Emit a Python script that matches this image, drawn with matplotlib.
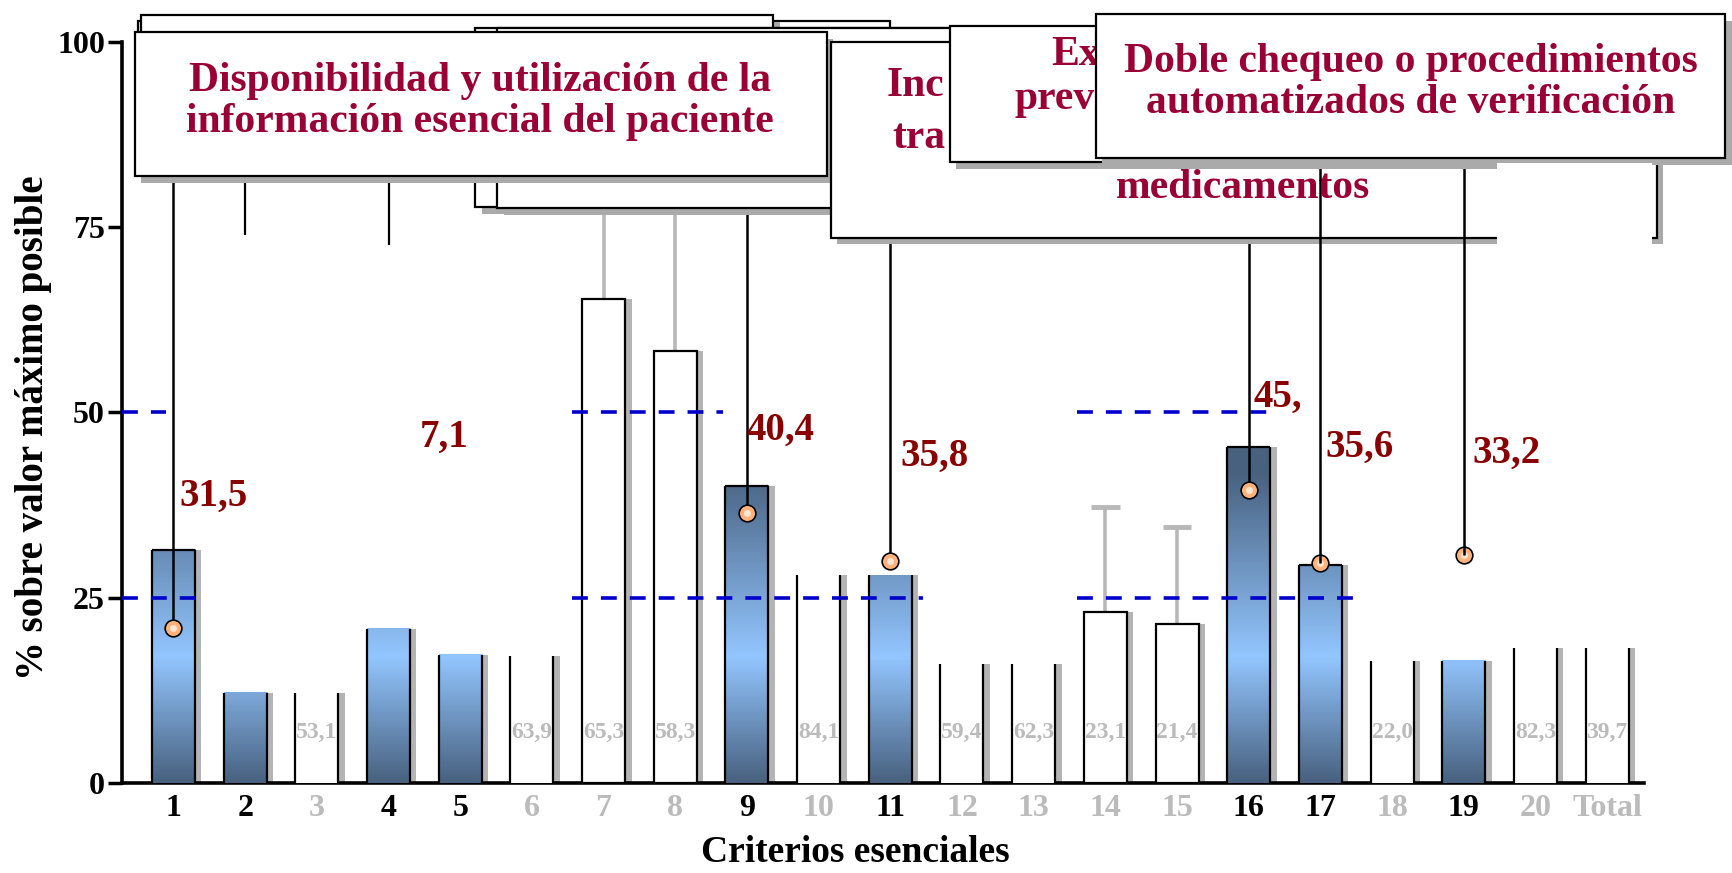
import numpy as np
import matplotlib
matplotlib.use("Agg")
import matplotlib.pyplot as plt
from matplotlib.patches import Rectangle
from matplotlib.colors import LinearSegmentedColormap

plt.rcParams["font.family"] = ["Liberation Serif", "DejaVu Serif"]
plt.rcParams["font.weight"] = "bold"

# ---- data ----
categories = [str(i) for i in range(1, 21)] + ["Total"]

blue_cats = ["1", "2", "4", "5", "9", "11", "16", "17", "19"]
blue_vals = [31.5, 12.2, 20.8, 17.3, 40.1, 28.0, 45.3, 29.4, 16.5]
blue_top_edge = ["1", "9", "16", "17"]

open_cats = ["7", "8", "14", "15"]
open_vals = [65.3, 58.3, 23.1, 21.4]
open_whisker = [90.0, 90.0, 37.3, 34.6]
open_capped = ["14", "15"]

ghost_cats = ["3", "6", "10", "12", "13", "18", "20", "Total"]
ghost_vals = [12.2, 17.2, 28.0, 16.0, 16.0, 16.5, 18.2, 18.2]

value_cats = ["3", "6", "7", "8", "10", "12", "13", "14", "15", "18", "20", "Total"]
value_text = ["53,1", "63,9", "65,3", "58,3", "84,1", "59,4", "62,3",
              "23,1", "21,4", "22,0", "82,3", "39,7"]

dot_cats = ["1", "9", "11", "16", "17", "19"]
dot_vals = [20.9, 36.4, 30.0, 39.5, 29.7, 30.7]
dot_line_top = [90, 90, 80, 80, 90, 90]
dot_line_front = [False, False, False, False, True, True]

# connectors of the hidden callouts
stub_cats = ["2", "4"]
stub_vals = [74.0, 72.6]

red_labels = ["31,5", "7,1", "40,4", "35,8", "45,", "35,6", "33,2"]
red_pos = [(0.08, 38.7), (3.44, 46.6), (8.0, 47.6), (10.14, 44.1),
           (15.07, 52.1), (16.07, 45.25), (18.12, 44.5)]

ref_lines_25 = [(-0.72, 0.33), (5.56, 10.45), (12.6, 16.53)]
ref_lines_50 = [(-0.72, -0.1), (5.56, 7.67), (12.6, 15.42)]

# ---- style ----
BAR_W = 0.6
SH_X, SH_Y = 0.09, 0.9
SHADOW = "#b4b4b4"
GREY_TXT = "#bbbbbb"
BOX_TXT = "#990033"
RED = "#880000"
BOX_FS = 30

xpos = {c: i for i, c in enumerate(categories)}
cmap = LinearSegmentedColormap.from_list(
    "bar", [(0, "#48617f"), (17 / 46, "#93c6ff"), (42 / 46, "#48617f"), (1, "#48617f")])

fig = plt.figure(figsize=(17.32, 8.73), dpi=100)
ax = fig.add_axes([0.0702, 0.1031, 0.8788, 0.8489])

# gradient bars
for c, v in zip(blue_cats, blue_vals):
    x = xpos[c]
    x0, x1 = x - BAR_W / 2, x + BAR_W / 2
    ax.add_patch(Rectangle((x0 + SH_X, 0), BAR_W, v, fc=SHADOW, ec="none", zorder=2))
    grad = np.linspace(0, v, 200).reshape(-1, 1)
    ax.imshow(grad, cmap=cmap, vmin=0, vmax=46, extent=[x0, x1, 0, v],
              origin="lower", aspect="auto", zorder=3)
    ax.vlines([x0, x1], 0, v, colors="black", lw=1.6, zorder=4)
    if c in blue_top_edge:
        ax.hlines(v, x0, x1, colors="black", lw=1.6, zorder=4)

# open bars with grey whiskers
for c, v, w in zip(open_cats, open_vals, open_whisker):
    x = xpos[c]
    ax.vlines(x, v, w, colors="#b8b8b8", lw=2.6, zorder=2.5)
    if c in open_capped:
        ax.hlines(w, x - 0.2, x + 0.2, colors="#b8b8b8", lw=3.5, zorder=2.5)
    ax.add_patch(Rectangle((x - BAR_W / 2 + SH_X, 0), BAR_W, v, fc=SHADOW, ec="none", zorder=2))
    ax.add_patch(Rectangle((x - BAR_W / 2, 0), BAR_W, v, fc="white", ec="black", lw=1.6, zorder=3))

# bars of which only the side edges show
for c, v in zip(ghost_cats, ghost_vals):
    x = xpos[c]
    ax.add_patch(Rectangle((x - BAR_W / 2 + SH_X, 0), BAR_W, v, fc=SHADOW, ec="none", zorder=2))
    ax.add_patch(Rectangle((x - BAR_W / 2, 0), BAR_W, v, fc="white", ec="none", zorder=3))
    ax.vlines([x - BAR_W / 2, x + BAR_W / 2], 0, v, colors="black", lw=1.6, zorder=4)

for c, t in zip(value_cats, value_text):
    ax.text(xpos[c], 6.8, t, ha="center", va="center", fontsize=17,
            color=GREY_TXT, fontweight="bold", zorder=5)

# dashed reference lines
for y, segs in ((25, ref_lines_25), (50, ref_lines_50)):
    for a, b in segs:
        ax.plot([a, b], [y, y], color="#0000cc", lw=2.6, ls=(0, (4.4, 3.6)),
                zorder=4.5, clip_on=False)

# stubs and leader lines
for c, v in zip(stub_cats, stub_vals):
    ax.vlines(xpos[c], v, 95, colors="black", lw=1.6, zorder=5)
for c, v, top, front in zip(dot_cats, dot_vals, dot_line_top, dot_line_front):
    ax.vlines(xpos[c], v, top, colors="black", lw=1.8, zorder=16 if front else 5,
              clip_on=False)
dx = [xpos[c] for c in dot_cats]
ax.plot(dx, dot_vals, "o", ms=12, mfc="#ffb27c", mec="black", mew=1.2, zorder=6)
ax.plot(dx, dot_vals, "o", ms=5, mfc="#ffe6d2", mec="none", zorder=6.1)

for t, (x, y) in zip(red_labels, red_pos):
    ax.text(x, y, t, ha="left", va="center", fontsize=28, color=RED,
            fontweight="bold", zorder=6)


# callout boxes
def box(x0, y0, x1, y1, z):
    ax.add_patch(Rectangle((x0 + SH_X, y0 - SH_Y), x1 - x0, y1 - y0, fc="#aaaaaa",
                           ec="none", zorder=z - 0.01, clip_on=False))
    ax.add_patch(Rectangle((x0, y0), x1 - x0, y1 - y0, fc="white", ec="black",
                           lw=1.6, zorder=z, clip_on=False))


def box_text(x, y, s, z, ha="center"):
    ax.text(x, y, s, ha=ha, va="center", fontsize=BOX_FS, color=BOX_TXT,
            fontweight="bold", linespacing=1.1, zorder=z)


box(-0.49, 82.9, 9.99, 102.8, 10)
box(-0.45, 82.9, 8.37, 103.6, 11)
box(4.21, 77.7, 12.99, 101.9, 12)
box(4.52, 77.6, 12.99, 101.9, 13)
box(-0.54, 81.9, 9.11, 101.3, 14)
box_text(4.28, 91.9, "Disponibilidad y utilización de la\ninformación esencial del paciente", 14.5)

box(9.17, 73.6, 20.69, 100.0, 15)
box_text(9.95, 94.1, "Inc", 15.5, ha="left")
box_text(10.03, 87.1, "tra", 15.5, ha="left")
box_text(14.92, 80.3, "medicamentos", 15.5)

box(10.83, 83.8, 19.15, 102.2, 17)
box_text(12.25, 98.2, "Ex", 17.5, ha="left")
box_text(11.73, 92.3, "prev", 17.5, ha="left")

box(12.87, 84.3, 21.65, 103.7, 18)
box_text(17.26, 94.5, "Doble chequeo o procedimientos\nautomatizados de verificación", 18.5)
# white patch left over from the slide animation
ax.add_patch(Rectangle((18.47, 72.6), 2.16, 11.1, fc="white", ec="none",
                       zorder=19, clip_on=False))

# axes
ax.set_xlim(-0.724, 20.51)
ax.set_ylim(0, 100)
ax.set_yticks([0, 25, 50, 75, 100])
ax.set_xticks(range(len(categories)))
ax.set_xticklabels(categories)
for lab, c in zip(ax.get_xticklabels(), categories):
    lab.set_color("black" if c in blue_cats else GREY_TXT)
ax.tick_params(axis="x", length=0, pad=8, labelsize=23)
ax.tick_params(axis="y", length=10, width=2.5, direction="out", pad=2, labelsize=23)
for s in ("top", "right"):
    ax.spines[s].set_visible(False)
for s in ("left", "bottom"):
    ax.spines[s].set_linewidth(2.6)
ax.set_ylabel("% sobre valor máximo posible", fontsize=28, fontweight="bold")
ax.yaxis.set_label_coords(-0.046, 0.48)
ax.set_xlabel("Criterios esenciales", fontsize=27, fontweight="bold")
ax.xaxis.set_label_coords(0.482, -0.07)

fig.savefig("out.png", dpi=100)
